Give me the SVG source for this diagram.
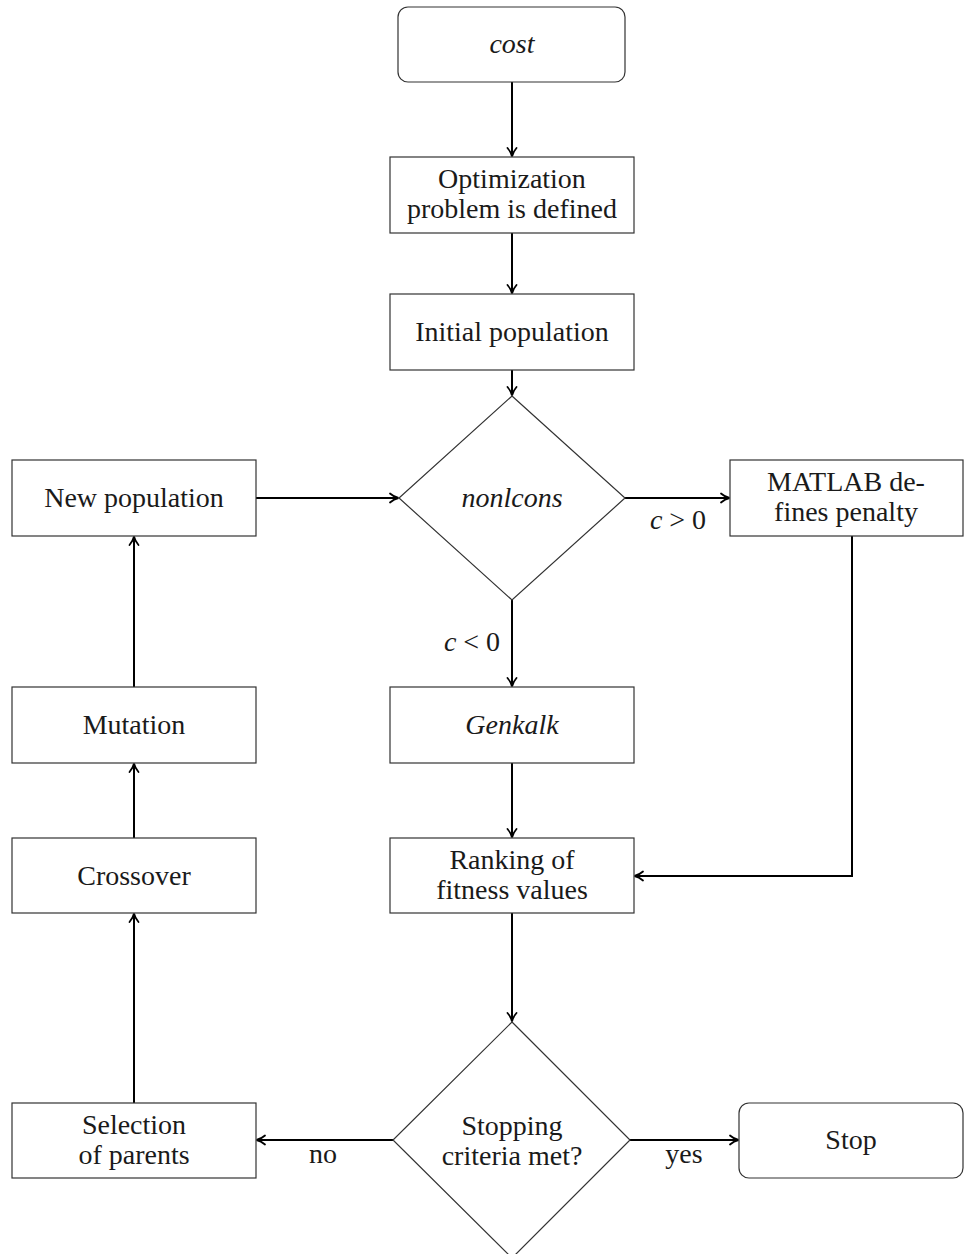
<svg xmlns="http://www.w3.org/2000/svg" width="964" height="1254" viewBox="0 0 964 1254">
<defs>
<marker id="arr" viewBox="0 0 12 12" refX="10" refY="6" markerWidth="12" markerHeight="12" markerUnits="userSpaceOnUse" orient="auto">
<path d="M2,1.5 Q6,5 10.5,6 Q6,7 2,10.5" fill="none" stroke="#000" stroke-width="1.8" stroke-linecap="round"/>
</marker>
</defs>
<style>
.box{fill:#fff;stroke:#333;stroke-width:1.2}
.edge{fill:none;stroke:#000;stroke-width:2;marker-end:url(#arr)}
text{font-family:"Liberation Serif","DejaVu Serif",serif;font-size:28px;fill:#1a1a1a;text-anchor:middle}
.it{font-style:italic}
</style>
<rect width="964" height="1254" fill="#fff"/>
<g id="connectors">
<path class="edge" d="M512,82 V156"/>
<path class="edge" d="M512,233 V293"/>
<path class="edge" d="M512,370 V395"/>
<path class="edge" d="M625,498 H729"/>
<path class="edge" d="M256,498 H398"/>
<path class="edge" d="M512,600 V686"/>
<path class="edge" d="M512,763 V837"/>
<path class="edge" d="M852,536 V876 H635"/>
<path class="edge" d="M512,913 V1021"/>
<path class="edge" d="M393,1140 H257"/>
<path class="edge" d="M630,1140 H738"/>
<path class="edge" d="M134,1103 V914"/>
<path class="edge" d="M134,838 V764"/>
<path class="edge" d="M134,687 V537"/>
<text x="678" y="529"><tspan class="it">c</tspan> &gt; 0</text>
<text x="472" y="651"><tspan class="it">c</tspan> &lt; 0</text>
<text x="323" y="1163">no</text>
<text x="684" y="1163">yes</text>
</g>
<g id="cost"><rect class="box" x="398" y="7" width="227" height="75" rx="10"/><text class="it" x="512" y="53">cost</text></g>
<g id="optimization"><rect class="box" x="390" y="157" width="244" height="76"/><text x="512" y="188">Optimization</text><text x="512" y="218">problem is defined</text></g>
<g id="initial"><rect class="box" x="390" y="294" width="244" height="76"/><text x="512" y="341">Initial population</text></g>
<g id="nonlcons"><polygon class="box" points="512,396 625,498 512,600 399,498"/><text class="it" x="512" y="507">nonlcons</text></g>
<g id="matlab"><rect class="box" x="730" y="460" width="233" height="76"/><text x="846" y="491">MATLAB de-</text><text x="846" y="521">fines penalty</text></g>
<g id="newpop"><rect class="box" x="12" y="460" width="244" height="76"/><text x="134" y="507">New population</text></g>
<g id="genkalk"><rect class="box" x="390" y="687" width="244" height="76"/><text class="it" x="512" y="734">Genkalk</text></g>
<g id="mutation"><rect class="box" x="12" y="687" width="244" height="76"/><text x="134" y="734">Mutation</text></g>
<g id="ranking"><rect class="box" x="390" y="838" width="244" height="75"/><text x="512" y="869">Ranking of</text><text x="512" y="899">fitness values</text></g>
<g id="crossover"><rect class="box" x="12" y="838" width="244" height="75"/><text x="134" y="885">Crossover</text></g>
<g id="stopping"><polygon class="box" points="512,1022 630,1140 512,1258 393,1140"/><text x="512" y="1135">Stopping</text><text x="512" y="1165">criteria met?</text></g>
<g id="selection"><rect class="box" x="12" y="1103" width="244" height="75"/><text x="134" y="1134">Selection</text><text x="134" y="1164">of parents</text></g>
<g id="stop"><rect class="box" x="739" y="1103" width="224" height="75" rx="10"/><text x="851" y="1149">Stop</text></g>
</svg>
